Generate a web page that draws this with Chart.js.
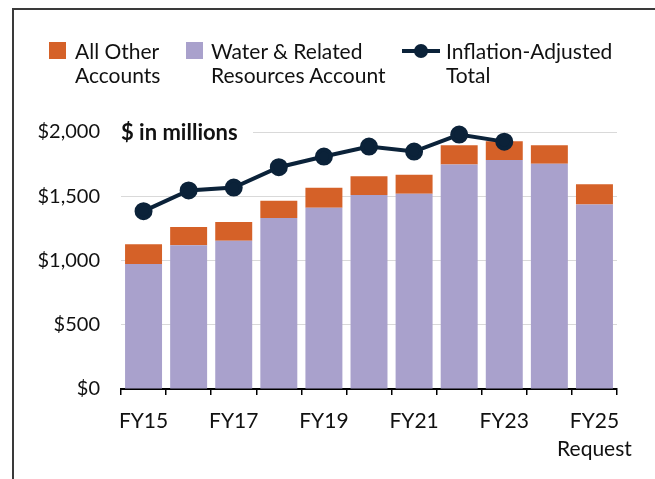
<!DOCTYPE html>
<html>
<head>
<meta charset="utf-8">
<script src="https://cdn.jsdelivr.net/npm/chart.js@4"></script>
<style>
  html, body { margin: 0; padding: 0; background: #fff; }
  body { width: 655px; height: 479px; position: relative; overflow: hidden; font-family: Lato, 'Open Sans', sans-serif; }
  #frame { position: absolute; left: 12px; top: 8px; width: 700px; height: 500px;
           border-left: 2px solid #3a3a3a; border-top: 2px solid #3a3a3a; }
  #wrap { position: absolute; left: 0; top: 0; width: 655px; height: 479px; }
  .legend-item { position: absolute; font-size: 21px; line-height: 24px; color: #111; white-space: pre-line; }
  .legend-box { position: absolute; width: 17px; height: 17px; }
  .legend-line { position: absolute; height: 4px; width: 38px; }
  .legend-dot { position: absolute; width: 14px; height: 14px; border-radius: 50%; }
</style>
</head>
<body>
<div id="frame"></div>
<div id="wrap"><canvas id="chart" width="655" height="479"></canvas></div>
<div id="legend"></div>
<script>
'use strict';

const categories = ['FY15', 'FY16', 'FY17', 'FY18', 'FY19', 'FY20', 'FY21', 'FY22', 'FY23', 'FY24', ['FY25', 'Request']];
const waterValues = [973, 1118, 1154, 1330, 1411, 1509, 1519, 1747, 1783, 1752, 1436];
const otherValues = [153, 142, 145, 135, 155, 147, 148, 150, 145, 145, 158];
const inflationValues = [1384, 1545, 1568, 1726, 1809, 1887, 1848, 1980, 1925, null, null];
const yTicks = [0, 500, 1000, 1500, 2000];

const COLORS = {
  water: '#a9a1cc',
  other: '#d56128',
  line: '#0b2239',
  grid: '#d9d9d9',
  text: '#111111',
};
const FONT = 'Lato, "Open Sans", sans-serif';

// "$ in millions" note in the top-left of the plot, over the top gridline
const unitsNote = {
  id: 'unitsNote',
  beforeDatasetsDraw(chart) {
    const { ctx, chartArea } = chart;
    const y = chart.scales.y.getPixelForValue(2000);
    ctx.save();
    ctx.fillStyle = '#fff';
    ctx.fillRect(chartArea.left, y - 3, 132, 6);
    ctx.fillStyle = COLORS.text;
    ctx.font = 'bold 22px ' + FONT;
    ctx.textBaseline = 'middle';
    ctx.fillText('$ in millions', chartArea.left, y + 1);
    ctx.restore();
  }
};

const chart = new Chart(document.getElementById('chart').getContext('2d'), {
  type: 'bar',
  data: {
    labels: categories,
    datasets: [{
      label: 'Water & Related\nResources Account',
      data: waterValues,
      backgroundColor: COLORS.water,
      barPercentage: 0.82,
      categoryPercentage: 1,
      stack: 'bars',
      order: 1,
    }, {
      label: 'All Other\nAccounts',
      data: otherValues,
      backgroundColor: COLORS.other,
      barPercentage: 0.82,
      categoryPercentage: 1,
      stack: 'bars',
      order: 1,
    }, {
      type: 'line',
      label: 'Inflation-Adjusted\nTotal',
      data: inflationValues,
      borderColor: COLORS.line,
      backgroundColor: COLORS.line,
      borderWidth: 4,
      pointRadius: 7,
      pointBackgroundColor: COLORS.line,
      pointBorderColor: COLORS.line,
      tension: 0,
      spanGaps: false,
      stack: 'line',
      order: 0,
      clip: false,
    }]
  },
  options: {
    responsive: false,
    animation: false,
    layout: {
      padding: { top: 132, right: 38, bottom: 0, left: 0 }
    },
    plugins: {
      legend: { display: false },
      tooltip: { enabled: false },
    },
    scales: {
      x: {
        stacked: true,
        border: { color: '#000', width: 2 },
        grid: {
          display: true,
          drawOnChartArea: false,
          drawTicks: true,
          tickLength: 6,
          color: '#000',
          lineWidth: 1.5,
          offset: true,
        },
        ticks: {
          autoSkip: false,
          maxRotation: 0,
          padding: 12,
          color: COLORS.text,
          font: { family: FONT, size: 21, lineHeight: 1.35 },
          callback: function (value, index) {
            // every other year is labelled
            return index % 2 === 0 ? this.getLabelForValue(value) : '';
          },
        },
        afterFit(scale) { scale.height = 90; },
      },
      y: {
        stacked: true,
        min: 0,
        max: 2000,
        border: { display: false },
        grid: { color: COLORS.grid, lineWidth: 1, drawTicks: false },
        afterBuildTicks(scale) { scale.ticks = yTicks.map(v => ({ value: v })); },
        ticks: {
          padding: 21,
          color: COLORS.text,
          font: { family: FONT, size: 20 },
          callback: (v) => '$' + Number(v).toLocaleString('en-US'),
        },
        afterFit(scale) { scale.width = 121; },
      }
    }
  },
  plugins: [unitsNote]
});

// HTML legend built from the datasets: other, water, line
const legend = document.getElementById('legend');
const legendPos = [
  { ds: 1, x: 49, textX: 75 },
  { ds: 0, x: 186, textX: 211 },
  { ds: 2, x: 402, textX: 446 },
];
legendPos.forEach(p => {
  const ds = chart.data.datasets[p.ds];
  if (ds.type === 'line') {
    const ln = document.createElement('div');
    ln.className = 'legend-line';
    ln.style.left = p.x + 'px';
    ln.style.top = '49px';
    ln.style.background = ds.borderColor;
    legend.appendChild(ln);
    const dot = document.createElement('div');
    dot.className = 'legend-dot';
    dot.style.left = (p.x + 12) + 'px';
    dot.style.top = '44px';
    dot.style.background = ds.borderColor;
    legend.appendChild(dot);
  } else {
    const box = document.createElement('div');
    box.className = 'legend-box';
    box.style.left = p.x + 'px';
    box.style.top = '42px';
    box.style.background = ds.backgroundColor;
    legend.appendChild(box);
  }
  const txt = document.createElement('div');
  txt.className = 'legend-item';
  txt.style.left = p.textX + 'px';
  txt.style.top = '39px';
  txt.textContent = ds.label;
  legend.appendChild(txt);
});
</script>
</body>
</html>
